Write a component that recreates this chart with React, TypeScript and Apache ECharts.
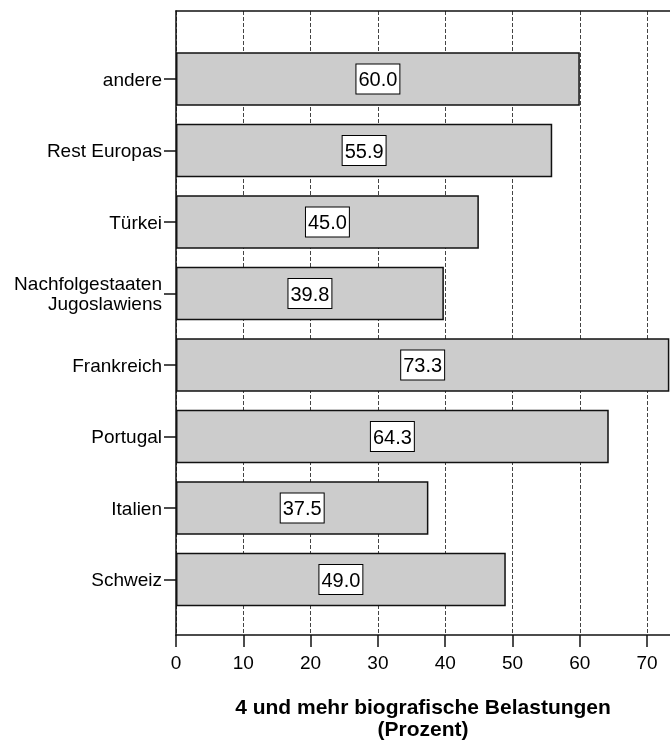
import React, { useEffect, useRef } from "react";
import * as echarts from "echarts";

// bottom-to-top order
const categories = [
  "Schweiz",
  "Italien",
  "Portugal",
  "Frankreich",
  "Nachfolgestaaten\nJugoslawiens",
  "Türkei",
  "Rest Europas",
  "andere",
];
const values = [49.0, 37.5, 64.3, 73.3, 39.8, 45.0, 55.9, 60.0];
const xTicks = [0, 10, 20, 30, 40, 50, 60, 70];
const xMax = 73.4;
const xTitle = "4 und mehr biografische Belastungen\n(Prozent)";

const FONT = "'Liberation Sans', Arial, Helvetica, sans-serif";

export default function App() {
  const ref = useRef<HTMLDivElement>(null);
  useEffect(() => {
    if (!ref.current) return;
    const chart = echarts.init(ref.current, undefined, { renderer: "svg" });
    chart.setOption({
      animation: false,
      textStyle: { fontFamily: FONT, color: "#000" },
      grid: [
        { left: 176, right: 0, top: 11, bottom: 96 },
        { left: 176, right: 0, top: 43.25, bottom: 128.75 },
      ],
      xAxis: [
        {
          type: "value",
          gridIndex: 0,
          min: 0,
          max: xMax,
          interval: 10,
          position: "bottom",
          axisLine: { show: true, lineStyle: { color: "#111", width: 1.5 } },
          axisTick: {
            show: true,
            length: 12,
            lineStyle: { color: "#111", width: 1.5 },
            customValues: xTicks,
          },
          axisLabel: {
            fontSize: 19,
            margin: 18,
            color: "#000",
            fontFamily: FONT,
            customValues: xTicks,
          },
          splitLine: {
            show: true,
            lineStyle: { color: "#444", width: 1, type: [4, 2] },
          },
          name: xTitle,
          nameLocation: "middle",
          nameGap: 60,
          nameTextStyle: {
            fontSize: 21,
            fontWeight: "bold",
            lineHeight: 22,
            color: "#000",
            fontFamily: FONT,
          },
        },
        {
          type: "value",
          gridIndex: 0,
          min: 0,
          max: xMax,
          position: "top",
          axisLine: { show: true, onZero: false, lineStyle: { color: "#111", width: 1.5 } },
          axisTick: { show: false },
          axisLabel: { show: false },
          splitLine: { show: false },
        },
        {
          type: "value",
          gridIndex: 1,
          min: 0,
          max: xMax,
          show: false,
          splitLine: { show: false },
        },
      ],
      yAxis: [
        {
          type: "value",
          gridIndex: 0,
          min: 0,
          max: 1,
          axisLine: { show: true, lineStyle: { color: "#111", width: 1.5 } },
          axisTick: { show: false },
          axisLabel: { show: false },
          splitLine: { show: false },
        },
        {
          type: "category",
          gridIndex: 1,
          data: categories,
          axisLine: { show: false },
          axisTick: {
            show: true,
            alignWithLabel: true,
            length: 12,
            lineStyle: { color: "#111", width: 1.5 },
          },
          axisLabel: {
            fontSize: 19,
            margin: 14,
            lineHeight: 20,
            color: "#000",
            fontFamily: FONT,
            align: "right",
          },
          splitLine: { show: false },
        },
      ],
      series: [
        {
          type: "bar",
          xAxisIndex: 2,
          yAxisIndex: 1,
          data: values,
          barWidth: "75%",
          itemStyle: { color: "#cccccc", borderColor: "#111", borderWidth: 1.5 },
          label: {
            show: true,
            position: "inside",
            formatter: (p: any) => Number(p.value).toFixed(1),
            fontSize: 20,
            color: "#000",
            fontFamily: FONT,
            backgroundColor: "#fff",
            borderColor: "#000",
            borderWidth: 1,
            padding: [5, 2, 4, 2],
          },
        },
      ],
    });
    return () => chart.dispose();
  }, []);
  return (
    <div
      ref={ref}
      style={{ position: "fixed", left: 0, top: 0, width: 670, height: 744 }}
    />
  );
}
